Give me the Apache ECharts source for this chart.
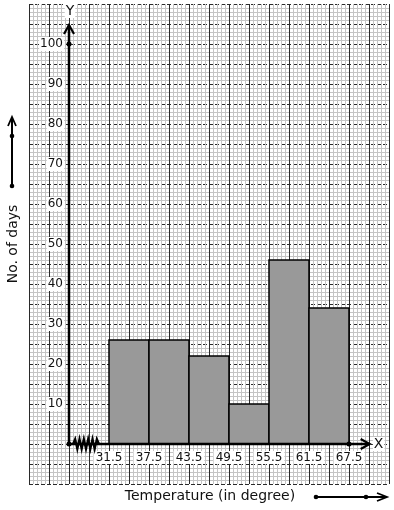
<!DOCTYPE html>
<html>
<head>
<meta charset="utf-8">
<script src="https://cdn.jsdelivr.net/npm/echarts@6/dist/echarts.min.js"></script>
<style>html,body{margin:0;padding:0;background:#fff}#c{width:394px;height:510px}</style>
</head>
<body>
<div id="c"></div>
<script>
// ---- data ----
const classStarts = [31.5, 37.5, 43.5, 49.5, 55.5, 61.5];
const classEnds   = [37.5, 43.5, 49.5, 55.5, 61.5, 67.5];
const days        = [26, 26, 22, 10, 46, 34];
const xTickLabels = [31.5, 37.5, 43.5, 49.5, 55.5, 61.5, 67.5];
const yTickLabels = [10, 20, 30, 40, 50, 60, 70, 80, 90, 100];
const xTitle = 'Temperature (in degree)';
const yTitle = 'No. of days';
const originX = 25.5;      // where the (broken) y-axis sits on the x scale
const xAxisEnd = 70.6;
const yAxisEnd = 104.75;

const FONT = 'DejaVu Sans';
const chart = echarts.init(document.getElementById('c'), null, {renderer: 'canvas'});

const barData = classStarts.map((s, i) => [s, classEnds[i], days[i]]);

chart.setOption({
  animation: false,
  backgroundColor: '#fff',
  grid: {left: 29, right: 5, top: 4, bottom: 26, containLabel: false},
  xAxis: [
    { // graph-paper lines
      type: 'value', min: 0, max: 54, interval: 3,
      axisLine: {show: false}, axisTick: {show: false}, axisLabel: {show: false},
      splitLine: {show: true, lineStyle: {color: '#2a2a2a', width: 1}},
      minorTick: {show: false, splitNumber: 5},
      minorSplitLine: {show: true, lineStyle: {color: '#c4c4c4', width: 1}}
    },
    { // data axis
      type: 'value', min: 19.5, max: 73.5, position: 'bottom', offset: -40,
      axisLine: {show: false}, axisTick: {show: false}, splitLine: {show: false},
      axisLabel: {
        show: true, customValues: xTickLabels, margin: 7,
        fontFamily: FONT, fontSize: 12, color: '#111',
        backgroundColor: '#fff', padding: [1, 2, 0, 2],
        formatter: v => v.toFixed(1)
      }
    }
  ],
  yAxis: [
    {
      type: 'value', min: -10, max: 110, interval: 5,
      axisLine: {show: false}, axisTick: {show: false}, axisLabel: {show: false},
      splitLine: {show: true, lineStyle: {color: '#2a2a2a', width: 1, type: [4, 2]}},
      minorTick: {show: false, splitNumber: 5},
      minorSplitLine: {show: true, lineStyle: {color: '#c4c4c4', width: 1}}
    },
    {
      type: 'value', min: -10, max: 110, position: 'left', offset: -40,
      axisLine: {show: false}, axisTick: {show: false}, splitLine: {show: false},
      axisLabel: {
        show: true, customValues: yTickLabels, margin: 5,
        fontFamily: FONT, fontSize: 12, color: '#111',
        backgroundColor: '#fff', padding: [1, 1, 1, 1]
      }
    }
  ],
  series: [{
    type: 'custom',
    xAxisIndex: 1, yAxisIndex: 0,
    data: barData,
    renderItem: function (params, api) {
      const p1 = api.coord([api.value(0), api.value(2)]);
      const p2 = api.coord([api.value(1), 0]);
      return {
        type: 'rect',
        shape: {x: p1[0], y: p1[1], width: p2[0] - p1[0], height: p2[1] - p1[1]},
        style: {fill: '#999999', stroke: '#000', lineWidth: 1.5}
      };
    }
  }]
});

function px(x, y) { return chart.convertToPixel({xAxisIndex: 1, yAxisIndex: 0}, [x, y]); }

const o = px(originX, 0);
const yTop = px(originX, yAxisEnd);
const xEnd = px(xAxisEnd, 0);
const y100 = px(originX, 100);
const xLast = px(xTickLabels[xTickLabels.length - 1], 0);
const brkStart = px(originX + 0.6, 0);
const brkEnd = px(31.5 - 1.5, 0);

const zig = [];
const nZ = 12;
for (let i = 0; i <= nZ; i++) {
  const x = brkStart[0] + (brkEnd[0] - brkStart[0]) * i / nZ;
  const y = o[1] + (i === 0 || i === nZ ? 0 : (i % 2 ? -5 : 5));
  zig.push([x, y]);
}

const black = {stroke: '#000', lineWidth: 2.5, fill: null};
const graphics = [
  {type: 'line', shape: {x1: o[0], y1: o[1], x2: o[0], y2: yTop[1]}, style: black, z: 10},
  {type: 'line', shape: {x1: o[0], y1: o[1], x2: xEnd[0], y2: o[1]}, style: black, z: 10},
  {type: 'polyline', shape: {points: [[yTop[0] - 5, yTop[1] + 9], [yTop[0], yTop[1]], [yTop[0] + 5, yTop[1] + 9]]}, style: {stroke: '#000', lineWidth: 2.2, fill: null}, z: 10},
  {type: 'polyline', shape: {points: [[xEnd[0] - 9, xEnd[1] - 5], [xEnd[0], xEnd[1]], [xEnd[0] - 9, xEnd[1] + 5]]}, style: {stroke: '#000', lineWidth: 2.2, fill: null}, z: 10},
  {type: 'polyline', shape: {points: zig}, style: {stroke: '#000', lineWidth: 2.2, fill: null}, z: 11},
  {type: 'circle', shape: {cx: o[0], cy: o[1], r: 2.5}, style: {fill: '#000'}, z: 11},
  {type: 'circle', shape: {cx: y100[0], cy: y100[1], r: 2.5}, style: {fill: '#000'}, z: 11},
  {type: 'circle', shape: {cx: xLast[0], cy: xLast[1], r: 2.5}, style: {fill: '#000'}, z: 11},
  {type: 'text', x: yTop[0] + 1, y: yTop[1] - 14, style: {text: 'Y', font: '14px "DejaVu Sans"', fill: '#111', align: 'center', verticalAlign: 'middle', backgroundColor: '#fff', padding: [0, 1]}, z: 12},
  {type: 'text', x: xEnd[0] + 9, y: xEnd[1], style: {text: 'X', font: '14px "DejaVu Sans"', fill: '#111', align: 'center', verticalAlign: 'middle', backgroundColor: '#fff', padding: [0, 1]}, z: 12},
  // axis titles
  {type: 'text', x: 210, y: 496, style: {text: xTitle, font: '14px "DejaVu Sans"', fill: '#111', align: 'center', verticalAlign: 'middle'}, z: 12},
  {type: 'text', x: 13, y: 244, rotation: Math.PI / 2, style: {text: yTitle, font: '14px "DejaVu Sans"', fill: '#111', align: 'center', verticalAlign: 'middle'}, z: 12},
  // side arrows
  {type: 'line', shape: {x1: 12, y1: 186, x2: 12, y2: 118}, style: {stroke: '#000', lineWidth: 2}, z: 12},
  {type: 'polyline', shape: {points: [[8, 126], [12, 117], [16, 126]]}, style: {stroke: '#000', lineWidth: 1.8, fill: null}, z: 12},
  {type: 'circle', shape: {cx: 12, cy: 136, r: 2.3}, style: {fill: '#000'}, z: 12},
  {type: 'circle', shape: {cx: 12, cy: 186, r: 2.3}, style: {fill: '#000'}, z: 12},
  {type: 'line', shape: {x1: 316, y1: 497, x2: 386, y2: 497}, style: {stroke: '#000', lineWidth: 2}, z: 12},
  {type: 'polyline', shape: {points: [[377, 493], [387, 497], [377, 501]]}, style: {stroke: '#000', lineWidth: 1.8, fill: null}, z: 12},
  {type: 'circle', shape: {cx: 316, cy: 497, r: 2.3}, style: {fill: '#000'}, z: 12},
  {type: 'circle', shape: {cx: 366, cy: 497, r: 2.3}, style: {fill: '#000'}, z: 12}
];
chart.setOption({graphic: graphics});
</script>
</body>
</html>
